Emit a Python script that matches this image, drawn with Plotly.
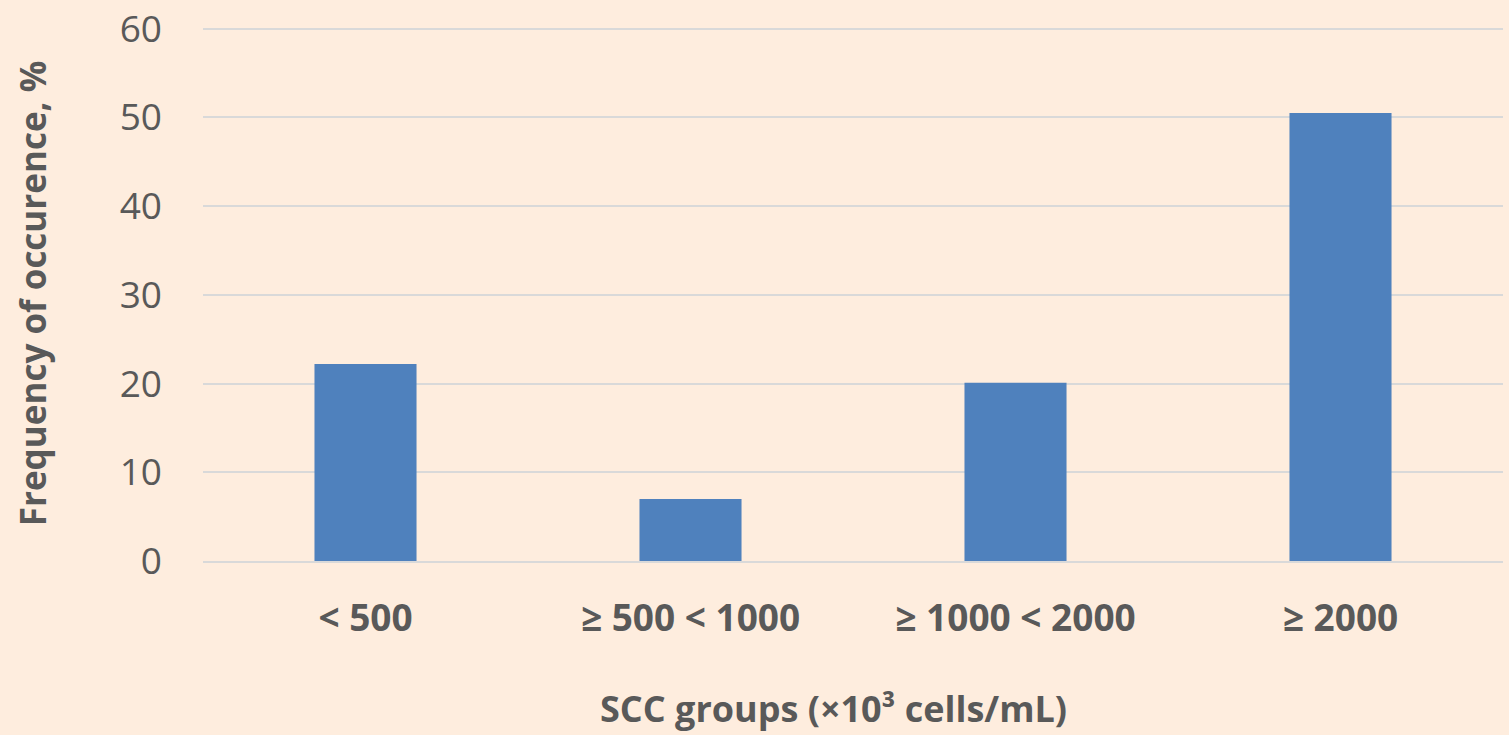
import plotly.graph_objects as go

categories = ["< 500", "≥ 500 < 1000", "≥ 1000 < 2000", "≥ 2000"]
values = [22.2, 7.0, 20.1, 50.5]
y_ticks = [0, 10, 20, 30, 40, 50, 60]
x_title = "SCC groups (×10³ cells/mL)"
y_title = "Frequency of occurence, %"

bg = "#FEEDDE"
txt = "#595959"
font_family = "Open Sans"

fig = go.Figure(
    go.Bar(
        x=categories,
        y=values,
        marker=dict(color="#4F81BD", line=dict(width=0)),
        width=0.314,
    )
)

fig.update_layout(
    width=1509,
    height=735,
    paper_bgcolor=bg,
    plot_bgcolor=bg,
    margin=dict(l=203, r=6, t=26, b=174),
    showlegend=False,
    font=dict(family=font_family, color=txt),
    xaxis=dict(
        showgrid=False,
        showline=True,
        linecolor="#D9D9D9",
        linewidth=2,
        ticks="",
        automargin=False,
        tickfont=dict(size=37, family=font_family, color=txt, weight="bold"),
        ticklabelstandoff=24,
    ),
    yaxis=dict(
        range=[0, 60.3],
        tickvals=y_ticks,
        showgrid=True,
        gridcolor="#D9D9D9",
        gridwidth=2,
        zeroline=False,
        ticks="",
        automargin=False,
        ticklabeloverflow="allow",
        tickfont=dict(size=37, family=font_family, color=txt),
        ticklabelstandoff=40,
        title=dict(
            text=y_title,
            font=dict(size=35, family=font_family, color=txt, weight="bold"),
            standoff=62,
        ),
    ),
    annotations=[
        dict(
            text=x_title,
            xref="paper",
            yref="paper",
            x=0.485,
            y=-0.275,
            xanchor="center",
            yanchor="middle",
            showarrow=False,
            font=dict(size=36, family=font_family, color=txt, weight="bold"),
        )
    ],
)

fig.write_html(
    "out.html",
    config={"displayModeBar": False},
    post_script="document.body.style.margin='0';document.body.style.padding='0';",
)
